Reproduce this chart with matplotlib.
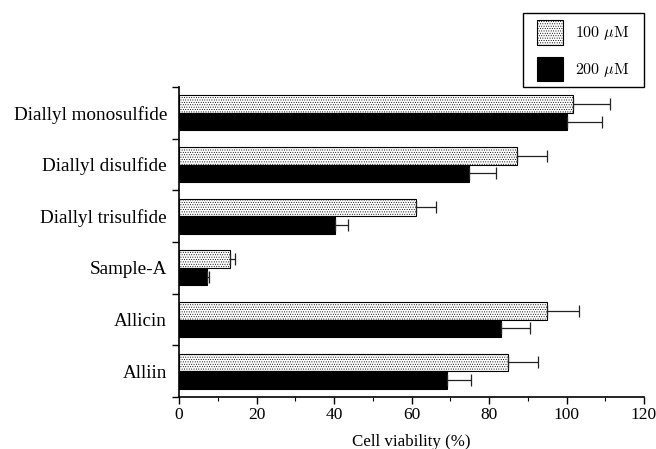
import matplotlib
matplotlib.use("Agg")
import matplotlib.pyplot as plt
from matplotlib.patches import Rectangle
import numpy as np

categories = ["Diallyl monosulfide", "Diallyl disulfide", "Diallyl trisulfide",
              "Sample-A", "Allicin", "Alliin"]
v100 = [101.8, 87.1, 61.2, 13.2, 94.9, 85.0]
e100 = [9.4, 7.8, 5.1, 1.3, 8.4, 7.7]
v200 = [100.0, 74.9, 40.2, 7.3, 83.1, 69.1]
e200 = [9.1, 6.8, 3.5, 0.5, 7.5, 6.2]
labels = [r"$\mathrm{100}\ \mu\mathrm{M}$", r"$\mathrm{200}\ \mu\mathrm{M}$"]

plt.rcParams['font.family'] = ['Liberation Serif', 'DejaVu Serif']
plt.rcParams['mathtext.fontset'] = 'cm'
plt.rcParams['hatch.linewidth'] = 0.4

W, H = 656, 449
fig = plt.figure(figsize=(6.56, 4.49), dpi=100)
ax = fig.add_axes([179/W, 1-397/H, (644-179)/W, (397-87)/H])

y = np.arange(len(categories))
h = 0.34
ax.barh(y - h/2, v100, height=h, color='white', edgecolor='black', hatch='.......',
        linewidth=0.8, label=labels[0],
        xerr=[np.zeros(len(e100)), e100], capsize=4,
        error_kw=dict(elinewidth=0.9, capthick=0.9, ecolor='#222222'))
ax.barh(y + h/2, v200, height=h, color='black', edgecolor='black',
        linewidth=0.8, label=labels[1],
        xerr=[np.zeros(len(e200)), e200], capsize=4,
        error_kw=dict(elinewidth=0.9, capthick=0.9, ecolor='#222222'))

ax.set_ylim(5.5, -0.5)
ax.set_xlim(0, 120)
ax.set_yticks(y)
ax.set_yticklabels(categories, fontsize=13.8)
ax.tick_params(axis='y', length=0, pad=8.7)
ax.set_yticks(np.arange(-0.5, 6, 1), minor=True)
ax.tick_params(axis='y', which='minor', length=5, width=1)
ax.set_xticks(np.arange(0, 121, 20))
ax.set_xticks(np.arange(0, 121, 10), minor=True)
ax.tick_params(axis='x', which='major', length=5, width=1, labelsize=12.5, pad=2)
ax.tick_params(axis='x', which='minor', length=3, width=0.8)
ax.set_xlabel("Cell viability (%)", fontsize=12.2, labelpad=8)
for s in ['top', 'right']:
    ax.spines[s].set_visible(False)
for s in ['left', 'bottom']:
    ax.spines[s].set_linewidth(1.2)

# legend frame drawn as a separate box, legend itself frameless
fig.patches.append(Rectangle((523/W, 1-87/H), (644-523)/W, (87-13)/H,
                             transform=fig.transFigure, fill=False,
                             edgecolor='black', linewidth=1.0))
leg = fig.legend(loc='upper left', bbox_to_anchor=(537/W, 1-20/H),
                 fontsize=11.5, frameon=False,
                 handlelength=1.6, handleheight=2.0, labelspacing=0.75,
                 borderpad=0, handletextpad=0.8, borderaxespad=0)

fig.savefig("out.png", dpi=100)
